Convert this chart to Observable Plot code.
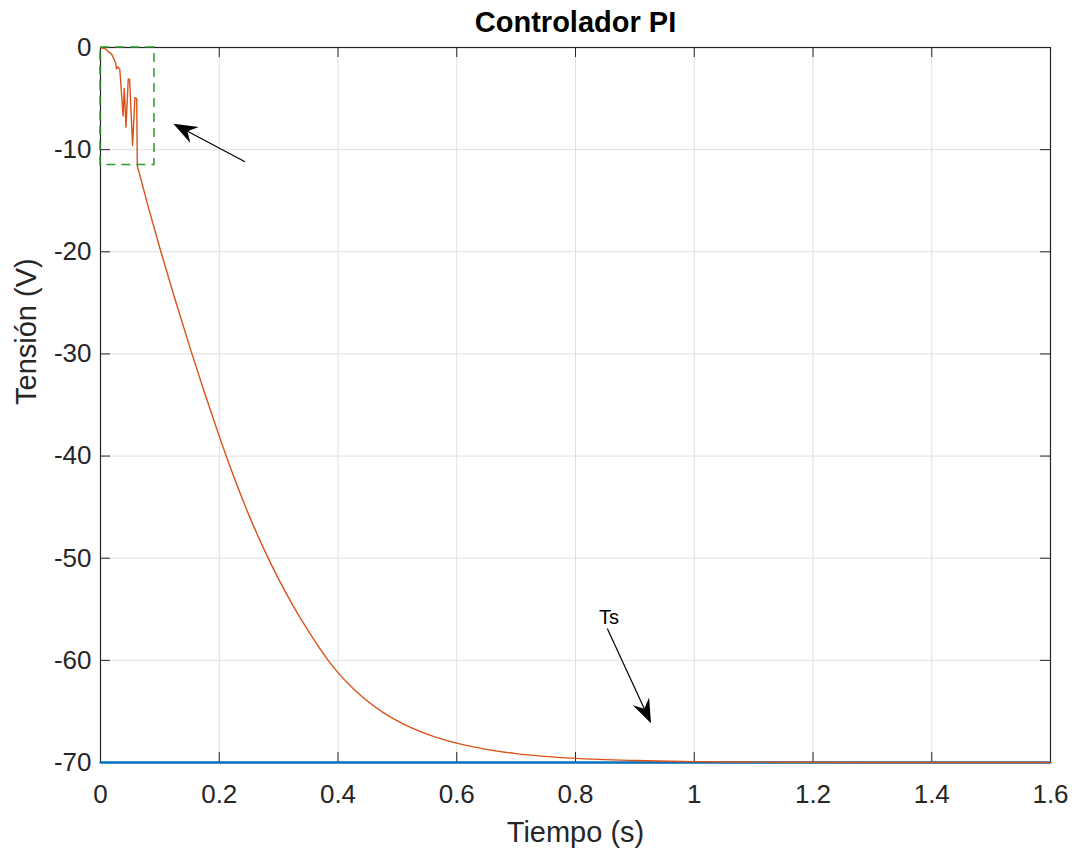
<!DOCTYPE html>
<html><head><meta charset="utf-8">
<script src="https://cdn.jsdelivr.net/npm/d3@7"></script>
<script src="https://cdn.jsdelivr.net/npm/@observablehq/plot@0.6"></script>
<style>body{margin:0;background:#fff;}</style>
</head><body><div id="chart"></div>
<script>
const title = "Controlador PI";
const xLabel = "Tiempo (s)";
const yLabel = "Tensión (V)";
const xTicks = [0, 0.2, 0.4, 0.6, 0.8, 1, 1.2, 1.4, 1.6];
const yTicks = [-70, -60, -50, -40, -30, -20, -10, 0];

// Controller response (orange): oscillating start, then smooth settling
const timeOsc = [0, 0.0084, 0.014, 0.0185, 0.0224, 0.025, 0.027, 0.029, 0.0325, 0.038, 0.040, 0.043, 0.0467, 0.049, 0.054, 0.058, 0.061, 0.062, 0.064];
const voltOsc = [0, -0.13, -0.46, -0.62, -1.1, -1.44, -2.1, -1.9, -2.1, -6.7, -4.0, -7.8, -3.1, -3.1, -9.6, -4.9, -5.0, -11.6, -12.0];
const timeSettle = [0.064, 0.08, 0.1, 0.125, 0.15, 0.175, 0.2, 0.225, 0.25, 0.275, 0.3, 0.325, 0.35, 0.387, 0.4, 0.425, 0.45, 0.475, 0.5, 0.55, 0.6, 0.65, 0.7, 0.8, 0.9, 1.0, 1.1, 1.2, 1.4, 1.6];
const voltSettle = [-12.0, -15.5, -19.65, -24.55, -29.26, -33.76, -38.05, -42.09, -45.78, -49.09, -52.05, -54.71, -57.12, -60.27, -61.2, -62.73, -64.01, -65.06, -65.92, -67.22, -68.11, -68.71, -69.13, -69.6, -69.81, -69.91, -69.96, -69.98, -70, -70];

// Reference (blue)
const timeBlue = [0, 1.6];
const voltBlue = [-70, -70];

// Annotations
const zoomBoxT = [0, 0.0909];
const zoomBoxV = [-11.5, 0];
const arrowTailT = [0.2442, 0.8544];
const arrowTailV = [-11.23, -56.92];
const arrowTipT = [0.1235, 0.9280];
const arrowTipV = [-7.51, -66.2];
const noteText = ["Ts"];
const noteT = [0.8396];
const noteV = [-56.42];

const osc = timeOsc.map((t, i) => ({t, v: voltOsc[i]}));
const settle = timeSettle.map((t, i) => ({t, v: voltSettle[i]}));
const blue = timeBlue.map((t, i) => ({t, v: voltBlue[i]}));
const box = [{x1: zoomBoxT[0], x2: zoomBoxT[1], y1: zoomBoxV[0], y2: zoomBoxV[1]}];
const arrows = arrowTailT.map((t, i) => ({x1: t, y1: arrowTailV[i], x2: arrowTipT[i], y2: arrowTipV[i]}));
const notes = noteText.map((s, i) => ({s, t: noteT[i], v: noteV[i]}));

const W = 1076, H = 853, ML = 100, MR = 26, MT = 47, MB = 91;
const innerW = W - ML - MR, innerH = H - MT - MB;
const TICK = 10;
const ink = "#262626";
const gridColor = "#e0e0e0";

function arrowMark(index, scales) {
  const g = d3.create("svg:g");
  for (const a of arrows) {
    const x1 = scales.x(a.x1), y1 = scales.y(a.y1), x2 = scales.x(a.x2), y2 = scales.y(a.y2);
    const ang = Math.atan2(y2 - y1, x2 - x1);
    const ux = Math.cos(ang), uy = Math.sin(ang), px = -uy, py = ux;
    const L = 24, Wd = 9, N = 16;
    const c1 = [x2 - ux * L + px * Wd, y2 - uy * L + py * Wd];
    const c2 = [x2 - ux * L - px * Wd, y2 - uy * L - py * Wd];
    const nb = [x2 - ux * N, y2 - uy * N];
    g.append("line").attr("x1", x1).attr("y1", y1).attr("x2", nb[0]).attr("y2", nb[1])
      .attr("stroke", "black").attr("stroke-width", 1.2);
    g.append("path").attr("d", `M${x2},${y2}L${c1}L${nb}L${c2}Z`).attr("fill", "black");
  }
  return g.node();
}

const chart = Plot.plot({
  width: W, height: H,
  marginLeft: ML, marginRight: MR, marginTop: MT, marginBottom: MB,
  style: {fontFamily: "'Liberation Sans', Arial, Helvetica, sans-serif", fontSize: "26px", color: ink, background: "white", overflow: "visible"},
  x: {domain: [0, 1.6], ticks: xTicks, tickSize: 0, tickPadding: 22, tickFormat: d => String(d), label: null},
  y: {domain: [-70, 0], ticks: yTicks, tickSize: 0, tickPadding: 9, tickFormat: d => String(d), label: null},
  marks: [
    Plot.ruleX(xTicks, {x: d => d, stroke: gridColor, strokeWidth: 1}),
    Plot.ruleY(yTicks, {y: d => d, stroke: gridColor, strokeWidth: 1}),
    Plot.frame({stroke: ink, strokeWidth: 1.2}),
    Plot.ruleX(xTicks, {x: d => d, stroke: ink, insetTop: innerH - TICK}),
    Plot.ruleX(xTicks, {x: d => d, stroke: ink, insetBottom: innerH - TICK}),
    Plot.ruleY(yTicks, {y: d => d, stroke: ink, insetRight: innerW - TICK}),
    Plot.ruleY(yTicks, {y: d => d, stroke: ink, insetLeft: innerW - TICK}),
    Plot.line(blue, {x: "t", y: "v", stroke: "#0072BD", strokeWidth: 2.3}),
    Plot.line(osc, {x: "t", y: "v", stroke: "#D95319", strokeWidth: 1.4, strokeLinejoin: "round"}),
    Plot.line(settle, {x: "t", y: "v", stroke: "#D95319", strokeWidth: 1.4, curve: "monotone-x"}),
    Plot.rect(box, {x1: "x1", x2: "x2", y1: "y1", y2: "y2", fill: "none", stroke: "#2a9a2a", strokeWidth: 1.5, strokeDasharray: "9,6"}),
    arrowMark,
    Plot.text(notes, {x: "t", y: "v", text: "s", textAnchor: "start", lineAnchor: "bottom", fontSize: 20, fill: "black"}),
    Plot.text([title], {frameAnchor: "top", dy: -16, lineAnchor: "bottom", fontSize: 29, fontWeight: "bold", fill: "black"}),
    Plot.text([xLabel], {frameAnchor: "bottom", dy: 79, lineAnchor: "bottom", fontSize: 29, fill: ink}),
    Plot.text([yLabel], {frameAnchor: "left", dx: -65, rotate: -90, lineAnchor: "bottom", fontSize: 29, fill: ink})
  ]
});
document.getElementById("chart").appendChild(chart);
</script>
</body></html>
